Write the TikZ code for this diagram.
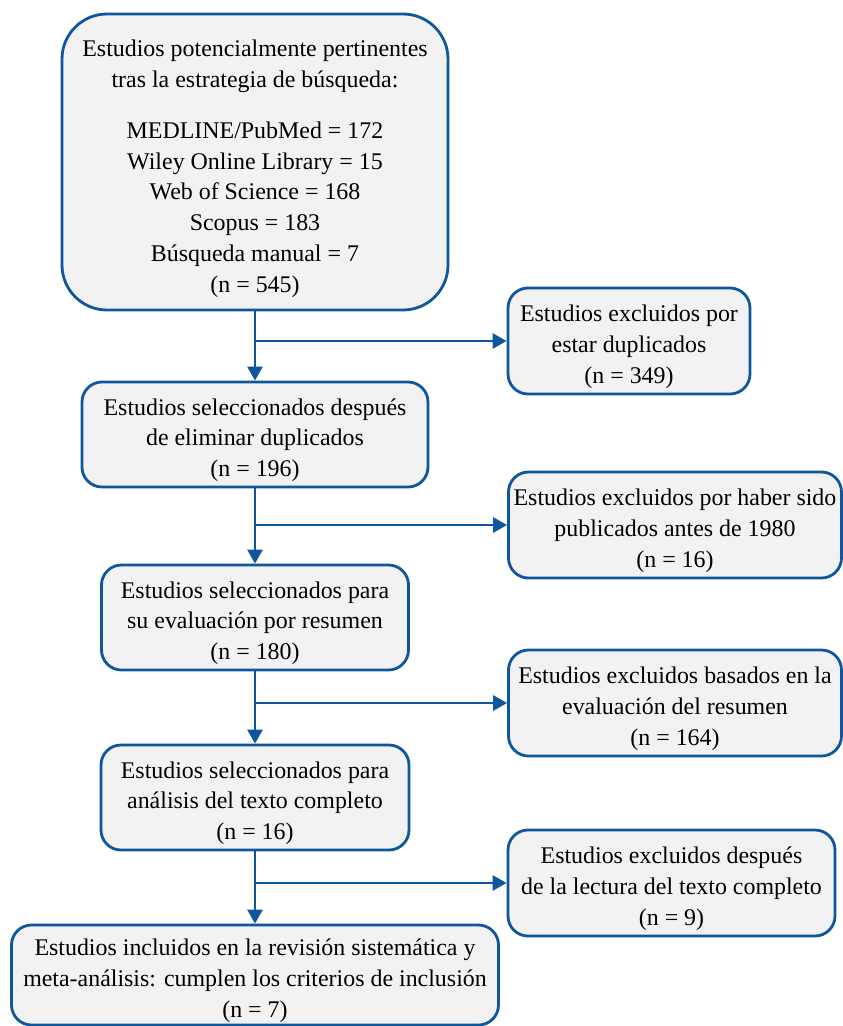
\documentclass[tikz,border=0pt]{standalone}
\usepackage{fontspec}
\setmainfont{Liberation Serif}
\usetikzlibrary{positioning,arrows.meta}
\definecolor{flowblue}{RGB}{14,86,158}
\definecolor{flowgray}{RGB}{242,242,242}
\newcommand\flowstrut{\rule{0pt}{28bp}}
\tikzset{
  flowbox/.style={draw=flowblue, line width=2.8bp, fill=flowgray, rounded corners=20bp,
    align=center, inner sep=0pt, font=\fontsize{24}{31}\selectfont},
  flowarrow/.style={-{Triangle[length=14bp,width=15bp]}, draw=flowblue, line width=2.8bp},
}

\begin{document}
\begin{tikzpicture}[x=1bp, y=-1bp,
    mainbox/.style={flowbox},
    sidebox/.style={flowbox, minimum height=106bp}]
  \useasboundingbox (0,0) rectangle (843,1026);
  % left column
  \node[mainbox, minimum width=386bp, minimum height=296bp, rounded corners=45bp] (search) at (255,162)
    {\rule{0pt}{30bp}Estudios potencialmente pertinentes\\tras la estrategia de búsqueda:\\[20bp]
     MEDLINE/PubMed = 172\\Wiley Online Library = 15\\Web of Science = 168\\
     Scopus = 183\\Búsqueda manual = 7\\(n = 545)};
  \node[mainbox, minimum width=346bp, minimum height=105bp] (sel1) at (255,434.5)
    {\flowstrut Estudios seleccionados después\\de eliminar duplicados\\(n = 196)};
  \node[mainbox, minimum width=307bp, minimum height=105bp] (sel2) at (255,617.5)
    {\flowstrut Estudios seleccionados para\\su evaluación por resumen\\(n = 180)};
  \node[mainbox, minimum width=308bp, minimum height=105bp] (sel3) at (255,797.5)
    {\flowstrut Estudios seleccionados para\\análisis del texto completo\\(n = 16)};
  \node[mainbox, minimum width=487bp, minimum height=100bp] (final) at (255,975)
    {\flowstrut Estudios incluidos en la revisión sistemática y\\meta-análisis: cumplen los criterios de inclusión\\(n = 7)};
  % right column
  \node[sidebox, minimum width=242bp] (dup) at (629,341)
    {\flowstrut Estudios excluidos por\\estar duplicados\\(n = 349)};
  \node[sidebox, minimum width=333bp] (early) at (675,525)
    {\flowstrut Estudios excluidos por haber sido\\publicados antes de 1980\\(n = 16)};
  \node[sidebox, minimum width=333bp] (abstr) at (675,703)
    {\flowstrut Estudios excluidos basados en la\\evaluación del resumen\\(n = 164)};
  \node[sidebox, minimum width=327bp] (full) at (671.5,883)
    {\flowstrut Estudios excluidos después\\de la lectura del texto completo\\(n = 9)};
  % arrows
  \draw[flowarrow] (search) -- (sel1);
  \draw[flowarrow] (search.south |- dup.west) -- (dup.west);
  \draw[flowarrow] (sel1) -- (sel2);
  \draw[flowarrow] (sel1.south |- early.west) -- (early.west);
  \draw[flowarrow] (sel2) -- (sel3);
  \draw[flowarrow] (sel2.south |- abstr.west) -- (abstr.west);
  \draw[flowarrow] (sel3) -- (final);
  \draw[flowarrow] (sel3.south |- full.west) -- (full.west);
\end{tikzpicture}
\end{document}
